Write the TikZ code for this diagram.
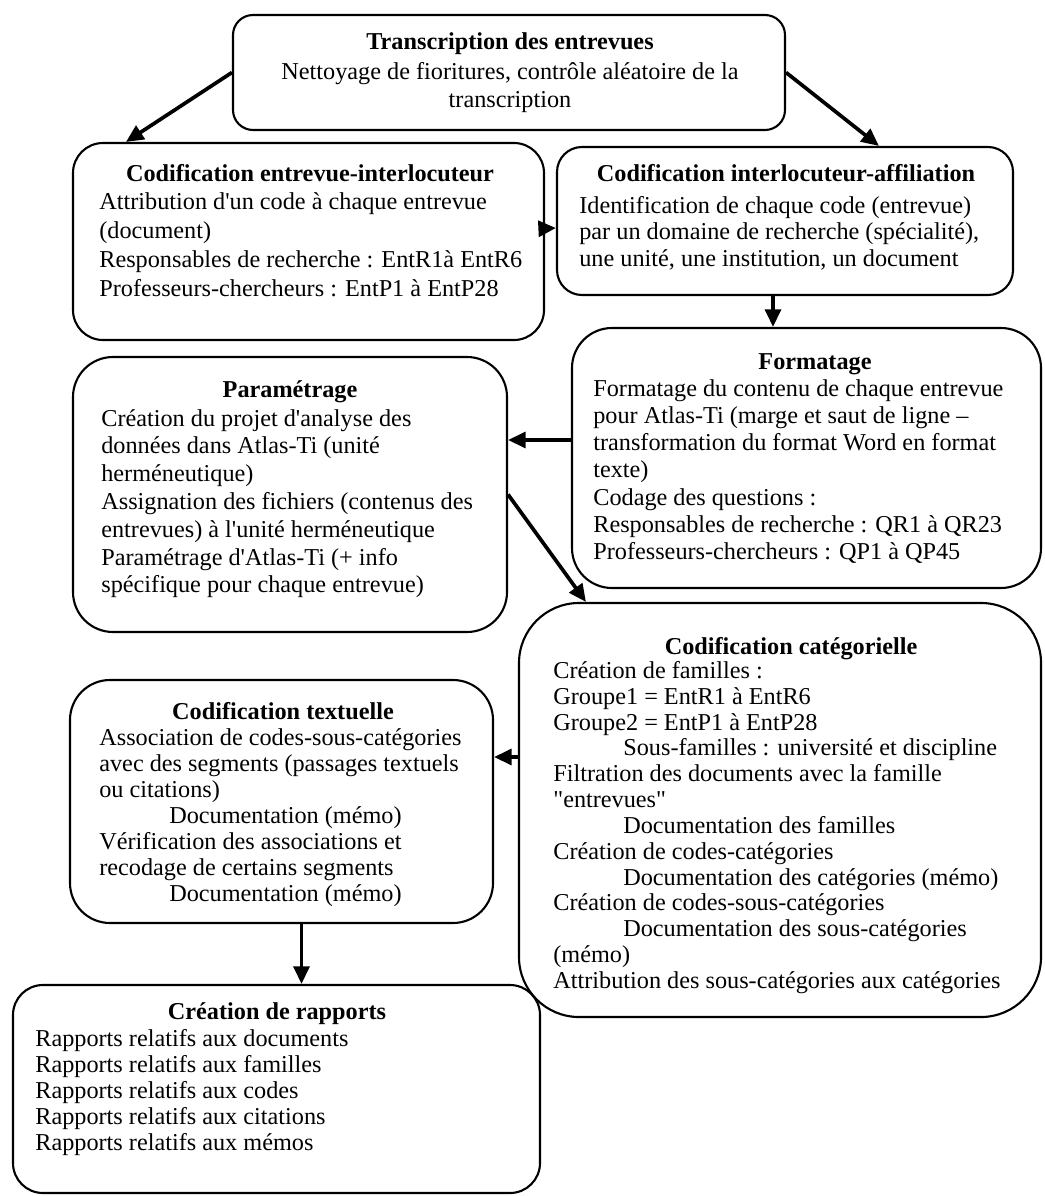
\documentclass[tikz,border=0pt]{standalone}
\usepackage{fontspec}
\setmainfont{Liberation Serif}
\usetikzlibrary{arrows.meta,calc,fit}
\newcommand\tabin{\hspace*{1.4cm}}
\newcommand\apos{\textquotesingle}
\tikzset{
  stage/.style={draw, line width=1.2pt, rounded corners=#1, inner sep=0pt},
  stage/.default=0.6cm,
  head/.style={font=\fontsize{13.8}{15}\selectfont\bfseries, anchor=base, inner sep=0pt},
  body/.style={font=\fontsize{13.8}{#1}\selectfont, anchor=north west, align=left, inner sep=0pt},
  body/.default=15pt,
  flow/.style={line width=2.1pt, -{Triangle[length=10pt,width=9pt]}}
}
\begin{document}
\begin{tikzpicture}[x=0.02cm, y=-0.02cm]
\useasboundingbox (0,0) rectangle (1044,1196);
\node[stage=0.4cm, fit={(233,15) (785,130)}] (transcr) {};
\node[stage=0.6cm, fit={(73,143) (544,340)}] (entint) {};
\node[stage=0.5cm, fit={(557,147) (1013,295)}] (intaff) {};
\node[stage=0.8cm, fit={(572,328) (1041,588)}] (format) {};
\node[stage=0.8cm, fit={(73,357) (507,632)}] (param) {};
\node[stage=1.2cm, fit={(519,603) (1041,1017)}] (categ) {};
\node[stage=0.8cm, fit={(70,680) (493,923)}] (textu) {};
\node[stage=0.6cm, fit={(13,985) (540,1193)}] (rapports) {};

\node[head] (transcr-h) at (510,50) {Transcription des entrevues};
\node[head] (entint-h) at (310,182) {Codification entrevue-interlocuteur};
\node[head] (intaff-h) at (786,182) {Codification interlocuteur-affiliation};
\node[head] (format-h) at (815,369) {Formatage};
\node[head] (param-h) at (290,397) {Paramétrage};
\node[head] (categ-h) at (791,654) {Codification catégorielle};
\node[head] (textu-h) at (283,719) {Codification textuelle};
\node[head] (rapports-h) at (277,1019) {Création de rapports};

\node[body=15.9pt, anchor=north, align=center] (transcr-b) at (510,62)
  {Nettoyage de fioritures, contrôle aléatoire de la\\transcription};
\node[body=16.5pt] (entint-b) at (99,192)
  {Attribution d\apos un code à chaque entrevue\\(document)\\
   Responsables de recherche : EntR1à EntR6\\Professeurs-chercheurs : EntP1 à EntP28};
\node[body=15.1pt] (intaff-b) at (579,196)
  {Identification de chaque code (entrevue)\\par un domaine de recherche (spécialité),\\
   une unité, une institution, un document};
\node[body=15.5pt] (format-b) at (593,379)
  {Formatage du contenu de chaque entrevue\\pour Atlas-Ti (marge et saut de ligne –\\
   transformation du format Word en format\\texte)\\Codage des questions :\\
   Responsables de recherche : QR1 à QR23\\Professeurs-chercheurs : QP1 à QP45};
\node[body=15.8pt] (param-b) at (101,409)
  {Création du projet d\apos analyse des\\données dans Atlas-Ti (unité\\herméneutique)\\
   Assignation des fichiers (contenus des\\entrevues) à l\apos unité herméneutique\\
   Paramétrage d\apos Atlas-Ti (+ info\\spécifique pour chaque entrevue)};
\node[body=14.7pt] (categ-b) at (553,661)
  {Création de familles :\\Groupe1 = EntR1 à EntR6\\Groupe2 = EntP1 à EntP28\\
   \tabin Sous-familles : université et discipline\\
   Filtration des documents avec la famille\\\textquotedbl entrevues\textquotedbl\\
   \tabin Documentation des familles\\Création de codes-catégories\\
   \tabin Documentation des catégories (mémo)\\Création de codes-sous-catégories\\
   \tabin Documentation des sous-catégories\\(mémo)\\
   Attribution des sous-catégories aux catégories};
\node[body=14.8pt] (textu-b) at (99,728)
  {Association de codes-sous-catégories\\avec des segments (passages textuels\\
   ou citations)\\\tabin Documentation (mémo)\\Vérification des associations et\\
   recodage de certains segments\\\tabin Documentation (mémo)};
\node[body=14.8pt] (rapports-b) at (35,1029)
  {Rapports relatifs aux documents\\Rapports relatifs aux familles\\
   Rapports relatifs aux codes\\Rapports relatifs aux citations\\
   Rapports relatifs aux mémos};

\coordinate (drop) at ($(intaff.south)+(-12,0)$);
\coordinate (fp) at ($(format.west)+(0,-18)$);
\coordinate (ct) at ($(categ.west)+(0,-53)$);
\coordinate (tr) at ($(textu.south)+(20,0)$);
\draw[flow] (transcr.west) -- ($(entint.north west)+(54,0)$);
\draw[flow] (transcr.east) -- ($(intaff.north west)+(323,0)$);
\draw[flow] ($(entint.east)+(0,-13)$) -- ($(intaff.west)+(0,7)$);
\draw[flow] (drop) -- (drop |- format.north);
\draw[flow] (fp) -- (fp -| param.east);
\draw[flow] (param.east) -- ($(categ.north west)+(68,0)$);
\draw[flow] (ct) -- (ct -| textu.east);
\draw[flow] (tr) -- (tr |- rapports.north);
\end{tikzpicture}
\end{document}
